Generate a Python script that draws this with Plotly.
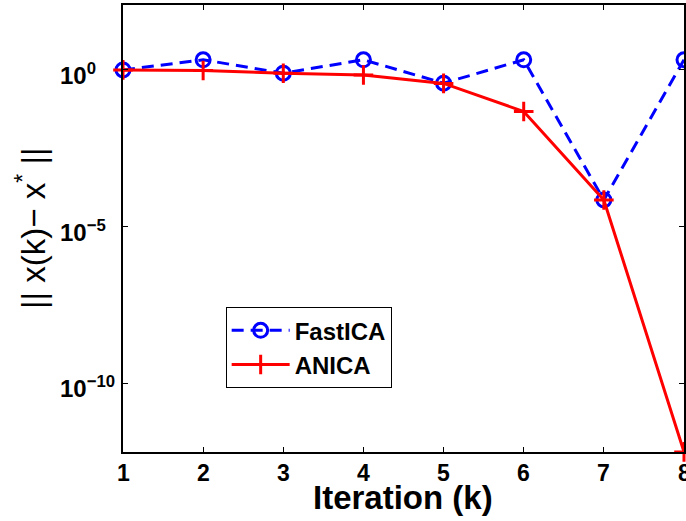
import math
import plotly.graph_objects as go

iterations = [1, 2, 3, 4, 5, 6, 7, 8]
fastica = [1.0, 2.1, 0.785, 2.1, 0.376, 2.1, 7.1e-5, 2.1]
anica = [1.0, 0.955, 0.785, 0.69, 0.37, 0.047, 7.1e-5, 6.5e-13]
x_ticktext = ["<b>%d</b>" % v for v in iterations]
y_tickvals = [1e-10, 1e-5, 1]
y_ticktext = ["<b>10<sup>\u221210</sup></b>", "<b>10<sup>\u22125</sup></b>", "<b>10<sup>0</sup></b>"]
x_title = "<b>Iteration (k)</b>"
y_title = "|| x(k)\u2212 x<sup>*</sup> ||"

FONT = "Liberation Sans, Arial, Helvetica, sans-serif"

# plot area in pixels (for placing text relative to it)
L, R, T, B = 123, 2, 5, 69
W, H = 686, 521
PW, PH = W - L - R, H - T - B

fig = go.Figure()
fig.add_trace(go.Scatter(
    x=iterations, y=fastica, name="<b>FastICA</b>", mode="lines+markers",
    line=dict(color="#0000ff", width=3, dash="12px,7px"),
    marker=dict(symbol="circle-open", size=14, color="#0000ff",
                line=dict(width=3, color="#0000ff")),
    cliponaxis=False,
))
fig.add_trace(go.Scatter(
    x=iterations, y=anica, name="<b>ANICA</b>", mode="lines+markers",
    line=dict(color="#ff0000", width=3),
    marker=dict(symbol="cross-thin", size=14, color="#ff0000",
                line=dict(width=3, color="#ff0000")),
    cliponaxis=False,
))

axis_common = dict(
    showline=True, linecolor="black", linewidth=2, mirror="ticks",
    ticks="inside", ticklen=5, tickcolor="black", tickwidth=1,
    showgrid=False, zeroline=False, automargin=False, showticklabels=False,
)

annotations = []
# y tick labels: base "10" left-aligned like the reference
for v, t in zip(y_tickvals, y_ticktext):
    annotations.append(dict(
        x=(58 - L) / PW, xref="paper", xanchor="left",
        y=math.log10(v), yref="y", yanchor="middle", yshift=-4,
        text=t, showarrow=False,
        font=dict(family=FONT, size=24, color="black"),
    ))
# x tick labels
for v, t in zip(iterations, x_ticktext):
    annotations.append(dict(
        x=v, xref="x", xanchor="center",
        y=(T + PH - 473) / PH, yref="paper", yanchor="middle",
        text=t, showarrow=False,
        font=dict(family=FONT, size=23, color="black"),
    ))
annotations.append(dict(
    x=(403 - L) / PW, xref="paper", xanchor="center",
    y=(T + PH - 497) / PH, yref="paper", yanchor="middle",
    text=x_title, showarrow=False,
    font=dict(family=FONT, size=33, color="black"),
))
annotations.append(dict(
    x=(31 - L) / PW, xref="paper", xanchor="center",
    y=(T + PH - 228) / PH, yref="paper", yanchor="middle",
    text=y_title, showarrow=False, textangle=-90,
    font=dict(family=FONT, size=33, color="black"),
))

fig.update_layout(
    width=W, height=H,
    margin=dict(l=L, r=R, t=T, b=B, autoexpand=False),
    plot_bgcolor="white", paper_bgcolor="white",
    font=dict(family=FONT, color="black", size=22),
    xaxis=dict(range=[1, 8], tickvals=iterations, **axis_common),
    yaxis=dict(type="log", range=[-12.19, 2.07], tickvals=y_tickvals, **axis_common),
    legend=dict(x=0.183, y=0.324, xanchor="left", yanchor="top",
                bgcolor="white", bordercolor="black", borderwidth=1,
                font=dict(family=FONT, size=24, color="black"),
                itemwidth=58),
    annotations=annotations,
    showlegend=True,
)

fig.write_html("out.html", config={"displayModeBar": False},
               post_script="document.body.style.margin='0';document.body.style.padding='0';")
